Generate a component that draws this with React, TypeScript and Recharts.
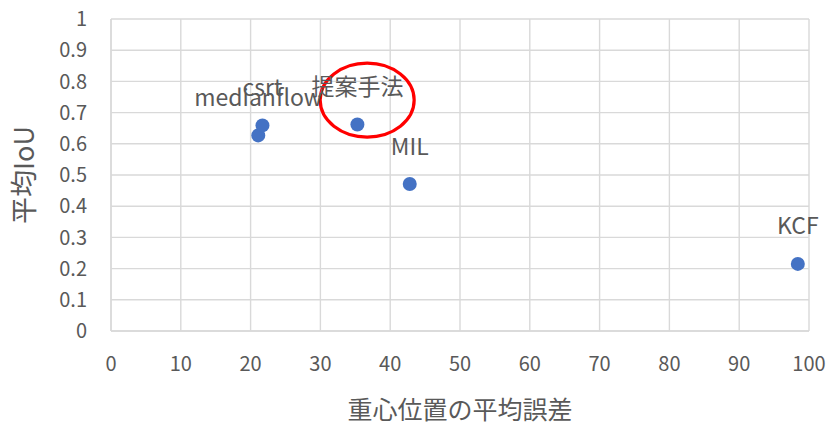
import React from "react";
import {
  ScatterChart,
  Scatter,
  XAxis,
  YAxis,
  CartesianGrid,
  LabelList,
  ReferenceDot,
} from "recharts";

// Tracker names with their mean centroid error and mean IoU
const trackers = ["medianflow", "csrt", "提案手法", "MIL", "KCF"];
const centroidError = [21.1, 21.7, 35.3, 42.8, 98.4];
const meanIoU = [0.627, 0.659, 0.662, 0.471, 0.215];

const xTicks = [0, 10, 20, 30, 40, 50, 60, 70, 80, 90, 100];
const yTicks = [0, 0.1, 0.2, 0.3, 0.4, 0.5, 0.6, 0.7, 0.8, 0.9, 1];

// Centre of the highlight ring around the proposed method
const highlightX = [36.7];
const highlightY = [0.74];

const xTitle = "重心位置の平均誤差";
const yTitle = "平均IoU";

const data = trackers.map((name, i) => ({
  name,
  x: centroidError[i],
  y: meanIoU[i],
}));

const FONT = "'Noto Sans CJK JP', 'Noto Sans', sans-serif";
const TEXT = "#595959";
const GRID = "#d9d9d9";

const PointLabel = (props: any) => {
  const { x, y, width, value } = props;
  return (
    <text
      x={x + width / 2}
      y={y - 25}
      textAnchor="middle"
      fill={TEXT}
      fontSize={23}
      fontFamily={FONT}
    >
      {value}
    </text>
  );
};

const Ring = (props: any) => {
  const { cx, cy } = props;
  return (
    <ellipse
      cx={cx}
      cy={cy}
      rx={47}
      ry={37}
      fill="none"
      stroke="#ff0000"
      strokeWidth={3.2}
    />
  );
};

const XTitle = (props: any) => {
  const { viewBox } = props;
  return (
    <text
      x={viewBox.x + viewBox.width / 2}
      y={408}
      textAnchor="middle"
      dominantBaseline="central"
      fill={TEXT}
      fontSize={25}
      fontFamily={FONT}
    >
      {xTitle}
    </text>
  );
};

const YTitle = (props: any) => {
  const { viewBox } = props;
  const cy = viewBox.y + viewBox.height / 2;
  return (
    <text
      x={22}
      y={cy}
      transform={`rotate(-90, 22, ${cy})`}
      textAnchor="middle"
      dominantBaseline="central"
      fill={TEXT}
      fontSize={27}
      fontFamily={FONT}
    >
      {yTitle}
    </text>
  );
};

export default function App() {
  return (
    <div style={{ position: "absolute", left: 0, top: 0, background: "#fff" }}>
      <ScatterChart
        width={827}
        height={422}
        margin={{ top: 19, right: 18, left: 0, bottom: 0 }}
      >
        <CartesianGrid stroke={GRID} strokeWidth={1.4} />
        <XAxis
          type="number"
          dataKey="x"
          domain={[0, 100]}
          ticks={xTicks}
          height={91}
          tickLine={false}
          tickSize={0}
          tickMargin={26}
          axisLine={{ stroke: GRID, strokeWidth: 1.4 }}
          tick={{ fill: TEXT, fontSize: 20, fontFamily: FONT }}
          label={<XTitle />}
        />
        <YAxis
          type="number"
          dataKey="y"
          domain={[0, 1]}
          ticks={yTicks}
          width={111}
          tickLine={false}
          tickSize={0}
          tickMargin={24}
          axisLine={{ stroke: GRID, strokeWidth: 1.4 }}
          tick={{ fill: TEXT, fontSize: 20, fontFamily: FONT }}
          label={<YTitle />}
        />
        <Scatter
          data={data}
          fill="#4472C4"
          isAnimationActive={false}
          shape={(p: any) => <circle cx={p.cx} cy={p.cy} r={7} fill="#4472C4" />}
        >
          <LabelList dataKey="name" content={<PointLabel />} />
        </Scatter>
        <ReferenceDot
          x={highlightX[0]}
          y={highlightY[0]}
          shape={<Ring />}
          ifOverflow="visible"
        />
      </ScatterChart>
    </div>
  );
}
